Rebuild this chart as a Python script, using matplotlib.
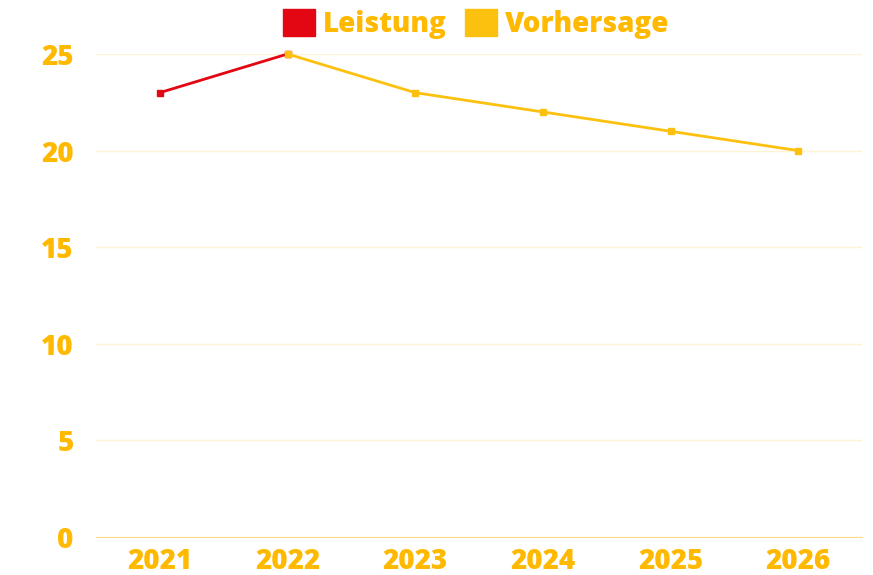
import numpy as np
import matplotlib.pyplot as plt
from matplotlib.patches import Patch

# Daten
jahre = ["2021", "2022", "2023", "2024", "2025", "2026"]
leistung = [23, 25, np.nan, np.nan, np.nan, np.nan]
vorhersage = [np.nan, 25, 23, 22, 21, 20]

rot = "#E30613"
gelb = "#FCC10F"
text_farbe = "#FFB900"

plt.rcParams["font.family"] = ["Open Sans", "DejaVu Sans"]
plt.rcParams["font.weight"] = 800

fig = plt.figure(figsize=(8.73, 5.75), dpi=100)
ax = fig.add_axes([96 / 873, 38 / 575, (862 - 96) / 873, (537 - 54) / 575])

x = np.arange(len(jahre))
ax.plot(x, leistung, color=rot, lw=2, marker="s", ms=4.5, clip_on=False, zorder=3)
ax.plot(x, vorhersage, color=gelb, lw=2, marker="s", ms=4.5, clip_on=False, zorder=4)

ax.set_xlim(-0.5, len(jahre) - 0.5)
ax.set_ylim(0, 25)
ax.set_yticks([0, 5, 10, 15, 20, 25])
ax.set_xticks(x)
ax.set_xticklabels(jahre)
ax.tick_params(length=0, labelsize=20, labelcolor=text_farbe)
ax.tick_params(axis="x", pad=7)
ax.tick_params(axis="y", pad=16)
for lab in ax.get_xticklabels() + ax.get_yticklabels():
    lab.set_fontweight(800)

ax.grid(axis="y", color="#FFF3D6", lw=1)
ax.set_axisbelow(True)
for s in ["top", "right", "left"]:
    ax.spines[s].set_visible(False)
ax.spines["bottom"].set_color("#FFDA8A")

handles = [Patch(color=rot, label="Leistung"), Patch(color=gelb, label="Vorhersage")]
leg = fig.legend(handles=handles, loc="center", bbox_to_anchor=(476 / 873, 1 - 24 / 575),
                 ncol=2, frameon=False, handlelength=1.15, handleheight=1.15,
                 handletextpad=0.3, columnspacing=0.65, prop={"size": 20, "weight": 800})
for t in leg.get_texts():
    t.set_color(text_farbe)

fig.savefig("out.png", dpi=100)
